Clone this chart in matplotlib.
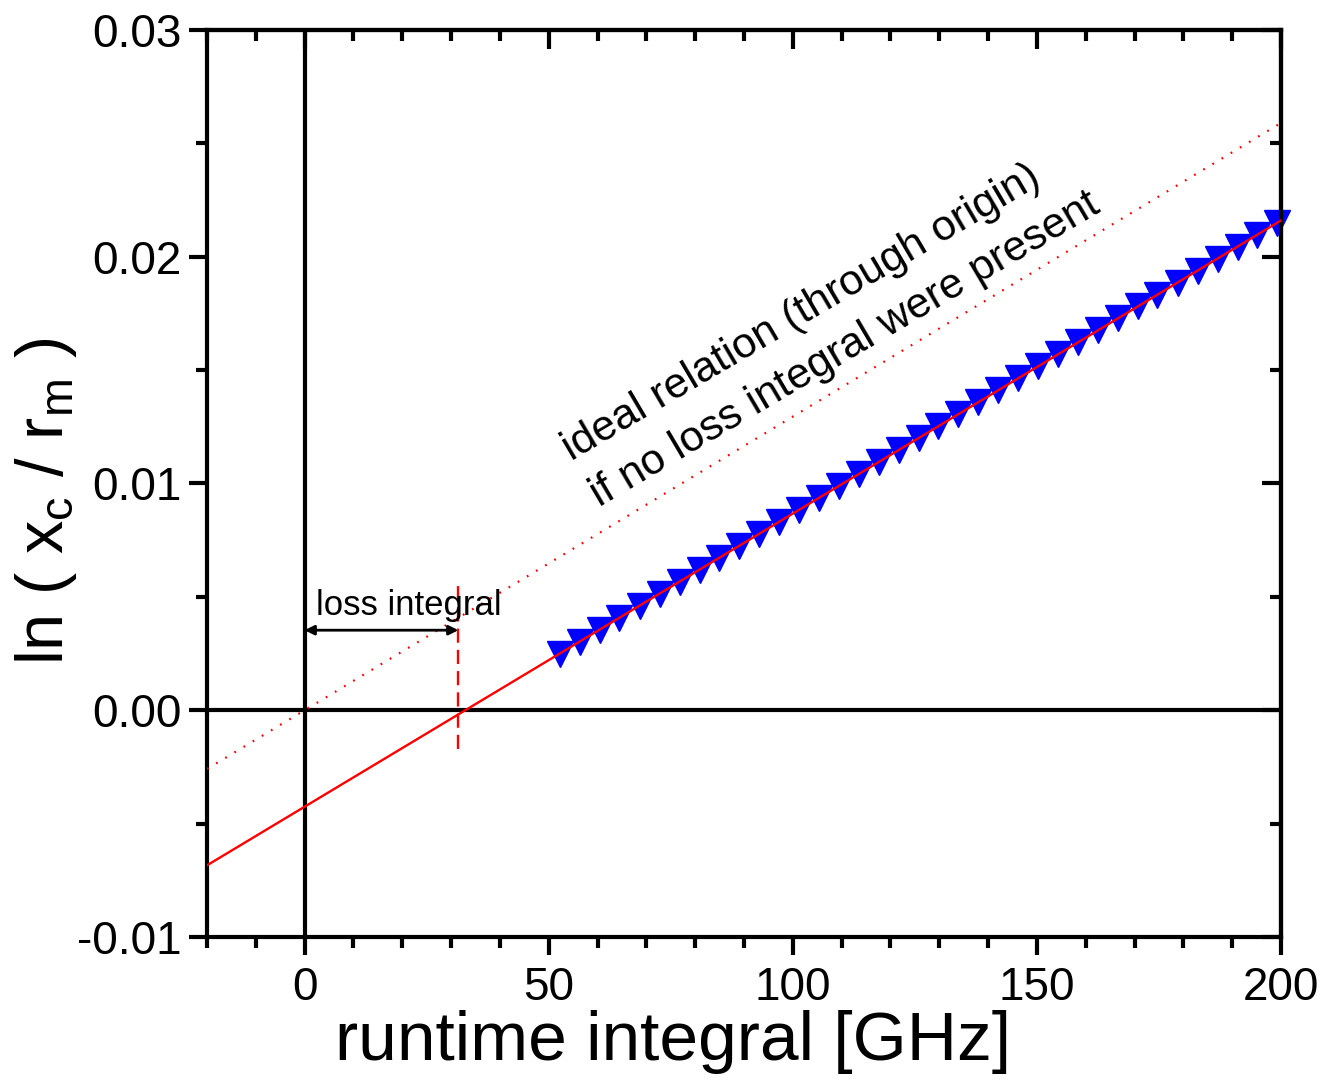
import matplotlib
matplotlib.use('Agg')
import numpy as np
import matplotlib.pyplot as plt
from matplotlib.ticker import MultipleLocator

plt.rcParams['font.family'] = ['Liberation Sans', 'DejaVu Sans']
plt.rcParams['mathtext.default'] = 'regular'

# measured points (runtime integral, ln(xc/rm))
x_meas = [52.3, 56.4, 60.5, 64.5, 68.6, 72.7, 76.8, 80.9, 84.9, 89.0,
          93.1, 97.2, 101.3, 105.4, 109.4, 113.5, 117.6, 121.7, 125.8, 129.8,
          133.9, 138.0, 142.1, 146.2, 150.2, 154.3, 158.4, 162.5, 166.6, 170.7,
          174.7, 178.8, 182.9, 187.0, 191.1, 195.1, 199.2]
y_meas = [0.00250, 0.00303, 0.00356, 0.00408, 0.00461, 0.00514, 0.00567, 0.00620, 0.00672, 0.00725,
          0.00778, 0.00831, 0.00884, 0.00937, 0.00989, 0.01042, 0.01095, 0.01148, 0.01201, 0.01252,
          0.01305, 0.01358, 0.01411, 0.01464, 0.01516, 0.01569, 0.01622, 0.01675, 0.01728, 0.01781,
          0.01833, 0.01886, 0.01939, 0.01992, 0.02045, 0.02097, 0.02150]

# linear fit and ideal line (through origin)
fit_x = [-20, 200]
fit_y = [-0.00684, 0.0216]
ideal_x = [-20, 200]
ideal_y = [-0.00259, 0.0259]

loss_x = 31.5          # loss integral
loss_span = [-0.0017, 0.0058]
arrow_y = 0.00353

fig = plt.figure(figsize=(13.25, 10.86), dpi=100)
ax = fig.add_axes([0.1562, 0.1372, 0.9668 - 0.1562, 0.9724 - 0.1372])

ax.axhline(0, color='black', lw=3, zorder=1)
ax.axvline(0, color='black', lw=3, zorder=1)

ax.plot(x_meas, y_meas, 'v', color='#0000ff', ms=19, mec='#0000ff', zorder=2, clip_on=False)
ax.plot(fit_x, fit_y, '-', color='#ff0000', lw=1.7, zorder=3)
ax.plot(ideal_x, ideal_y, color='#ff0000', lw=1.6, ls=(0, (0.8, 4)), zorder=3)
ax.plot([loss_x, loss_x], loss_span, color='#ff0000', lw=1.7, ls=(0, (6, 3)), zorder=3)

ax.annotate('', xy=(0, arrow_y), xytext=(loss_x, arrow_y),
            arrowprops=dict(arrowstyle='<|-|>', color='black', lw=2,
                            mutation_scale=14, shrinkA=0, shrinkB=0), zorder=4)
ax.text(2.3, 0.0042, 'loss integral', fontsize=25, ha='left', va='baseline')

ax.text(54.6, 0.01100, 'ideal relation (through origin)', fontsize=31,
        rotation=30.5, rotation_mode='anchor', ha='left', va='baseline')
ax.text(60.3, 0.00895, 'if no loss integral were present', fontsize=31,
        rotation=30.5, rotation_mode='anchor', ha='left', va='baseline')

ax.set_xlim(-20, 200)
ax.set_ylim(-0.01, 0.03)
ax.xaxis.set_major_locator(MultipleLocator(50))
ax.xaxis.set_minor_locator(MultipleLocator(10))
ax.yaxis.set_major_locator(MultipleLocator(0.01))
ax.yaxis.set_minor_locator(MultipleLocator(0.005))
ax.set_xticks([0, 50, 100, 150, 200])
ax.set_xticklabels(['0', '50', '100', '150', '200'])
ax.set_yticks([-0.01, 0.0, 0.01, 0.02, 0.03])
ax.set_yticklabels(['-0.01', '0.00', '0.01', '0.02', '0.03'])

for sp in ax.spines.values():
    sp.set_linewidth(3)

ax.tick_params(which='both', direction='out', width=3, labelsize=33)
ax.tick_params(which='major', length=13)
ax.tick_params(which='minor', length=8)
ax.tick_params(axis='x', which='major', pad=8)
ax.tick_params(axis='y', which='major', pad=5)

# mirrored ticks on top and right pointing inward
secx = ax.secondary_xaxis('top')
secx.xaxis.set_major_locator(MultipleLocator(50))
secx.xaxis.set_minor_locator(MultipleLocator(10))
secx.tick_params(which='both', direction='in', width=3, labeltop=False)
secx.tick_params(which='major', length=14)
secx.tick_params(which='minor', length=8)
secx.spines['top'].set_linewidth(3)
secy = ax.secondary_yaxis('right')
secy.yaxis.set_major_locator(MultipleLocator(0.01))
secy.yaxis.set_minor_locator(MultipleLocator(0.005))
secy.tick_params(which='both', direction='in', width=3, labelright=False)
secy.tick_params(which='major', length=14)
secy.tick_params(which='minor', length=8)
secy.spines['right'].set_linewidth(3)

ax.set_xlabel('runtime integral [GHz]', fontsize=50)
ax.xaxis.set_label_coords(0.434, -0.081)
ax.set_ylabel('ln ( x$_c$ / r$_m$ )', fontsize=48)
ax.yaxis.set_label_coords(-0.119, 0.48)

fig.savefig('out.png', dpi=100)
